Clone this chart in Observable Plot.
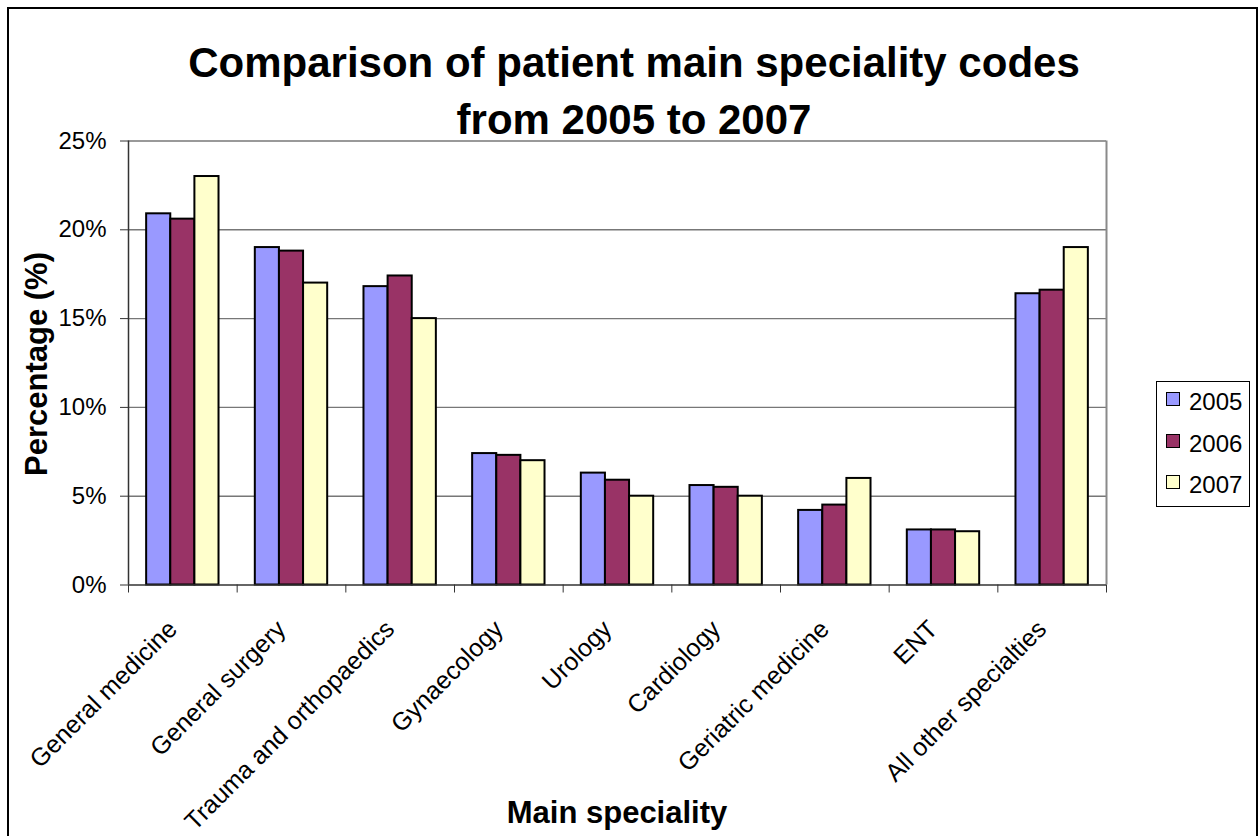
<!DOCTYPE html>
<html>
<head>
<meta charset="utf-8">
<script src="https://cdn.jsdelivr.net/npm/d3@7"></script>
<script src="https://cdn.jsdelivr.net/npm/@observablehq/plot@0.6"></script>
<style>
  html, body { margin: 0; padding: 0; background: #fff; overflow: hidden; }
  #page { position: relative; width: 1258px; height: 836px; overflow: hidden;
          font-family: "Liberation Sans", Arial, sans-serif; color: #000; }
  #page svg { position: absolute; left: 0; top: 0; }
  .border { position: absolute; left: 7px; top: 7px; width: 1251px; height: 860px;
            border: 2px solid #000; box-sizing: border-box; }
  .title { position: absolute; left: 134px; width: 1000px; top: 34px; text-align: center;
           font-weight: bold; font-size: 42px; line-height: 57px; white-space: nowrap; }
  .ylabel { position: absolute; left: 37px; top: 364px; transform: translate(-50%, -50%) rotate(-90deg);
            font-weight: bold; font-size: 31px; line-height: 35.6px; white-space: nowrap; }
  .xlabel { position: absolute; left: 617px; top: 797px; transform: translateX(-50%);
            font-weight: bold; font-size: 31px; line-height: 31px; white-space: nowrap; }
  .legend { position: absolute; left: 1156px; top: 381px; width: 94px; height: 126px;
            border: 1px solid #000; box-sizing: border-box; background: #fff; }
  .legend .row { position: absolute; left: 9px; height: 24px; }
  .legend .sw { position: absolute; left: 0; top: 2px; width: 14px; height: 14px;
                border: 1.5px solid #000; box-sizing: border-box; }
  .legend .lab { position: absolute; left: 23px; top: 0; font-size: 24px; line-height: 24px; }
</style>
</head>
<body>
<div id="page"></div>
<script>
// Share of patients by main speciality code, per year (percent)
const categories = [
  "General medicine", "General surgery", "Trauma and orthopaedics", "Gynaecology",
  "Urology", "Cardiology", "Geriatric medicine", "ENT", "All other specialties"
];
const years = ["2005", "2006", "2007"];
const values2005 = [20.9, 19.0, 16.8, 7.4, 6.3, 5.6, 4.2, 3.1, 16.4];
const values2006 = [20.6, 18.8, 17.4, 7.3, 5.9, 5.5, 4.5, 3.1, 16.6];
const values2007 = [23.0, 17.0, 15.0, 7.0, 5.0, 5.0, 6.0, 3.0, 19.0];
const yTicks = [0, 5, 10, 15, 20, 25];
const yearColors = ["#9999ff", "#993366", "#ffffcc"];

const series = [values2005, values2006, values2007];

// Each category occupies one unit of the x scale; the three yearly bars sit
// side by side in its middle.
const barWidth = 0.222;
const groupPad = (1 - years.length * barWidth) / 2;

const rows = [];
categories.forEach((cat, i) => {
  years.forEach((yr, j) => {
    const x1 = i + groupPad + j * barWidth;
    rows.push({category: cat, year: yr, value: series[j][i], x1, x2: x1 + barWidth});
  });
});

const labelRows = categories.map((c, i) => ({category: c, pos: i + 0.5}));

const W = 1258, H = 836;
const chart = Plot.plot({
  width: W,
  height: H,
  marginLeft: 128,
  marginRight: 152,
  marginTop: 140.5,
  marginBottom: 251.5,
  style: {fontFamily: "'Liberation Sans', Arial, sans-serif", fontSize: "24px", color: "#000", background: "transparent", overflow: "visible"},
  x: {type: "linear", domain: [0, categories.length]},
  y: {domain: [0, 25]},
  color: {domain: years, range: yearColors},
  marks: [
    // horizontal gridlines
    Plot.ruleY(yTicks.filter(d => d > 0), {stroke: "#777", strokeWidth: 1.4}),
    // right edge of the plot area
    Plot.ruleX([categories.length], {stroke: "#8a8a8a", strokeWidth: 2}),
    // bars
    Plot.rectY(rows, {x1: "x1", x2: "x2", y: "value", fill: "year", stroke: "#000", strokeWidth: 2}),
    // axis lines
    Plot.ruleY([0], {stroke: "#333", strokeWidth: 1.5}),
    Plot.ruleX([0], {stroke: "#333", strokeWidth: 1.5}),
    Plot.axisY({ticks: yTicks, tickFormat: d => d + "%", tickSize: 8, tickPadding: 14,
                fontSize: 24, stroke: "#333", label: null}),
    // category boundary ticks
    Plot.axisX({ticks: d3.range(0, categories.length + 1), tickSize: 8, tickFormat: () => "",
                stroke: "#333", label: null}),
    // rotated category names
    Plot.text(labelRows, {x: "pos", text: "category", frameAnchor: "bottom", rotate: -45,
                          textAnchor: "end", lineAnchor: "middle", dx: -10, dy: 40,
                          fontSize: 25, fill: "#000"})
  ]
});

const page = document.getElementById("page");
page.appendChild(chart);

const border = document.createElement("div");
border.className = "border";
page.appendChild(border);

const title = document.createElement("div");
title.className = "title";
title.innerHTML = "Comparison of patient main speciality codes<br>from 2005 to 2007";
page.appendChild(title);

const ylabel = document.createElement("div");
ylabel.className = "ylabel";
ylabel.textContent = "Percentage (%)";
page.appendChild(ylabel);

const xlabel = document.createElement("div");
xlabel.className = "xlabel";
xlabel.textContent = "Main speciality";
page.appendChild(xlabel);

// legend
const legend = document.createElement("div");
legend.className = "legend";
years.forEach((yr, k) => {
  const row = document.createElement("div");
  row.className = "row";
  row.style.top = (8 + k * 41.5) + "px";
  const sw = document.createElement("div");
  sw.className = "sw";
  sw.style.background = yearColors[k];
  const lab = document.createElement("div");
  lab.className = "lab";
  lab.textContent = yr;
  row.appendChild(sw);
  row.appendChild(lab);
  legend.appendChild(row);
});
page.appendChild(legend);
</script>
</body>
</html>
